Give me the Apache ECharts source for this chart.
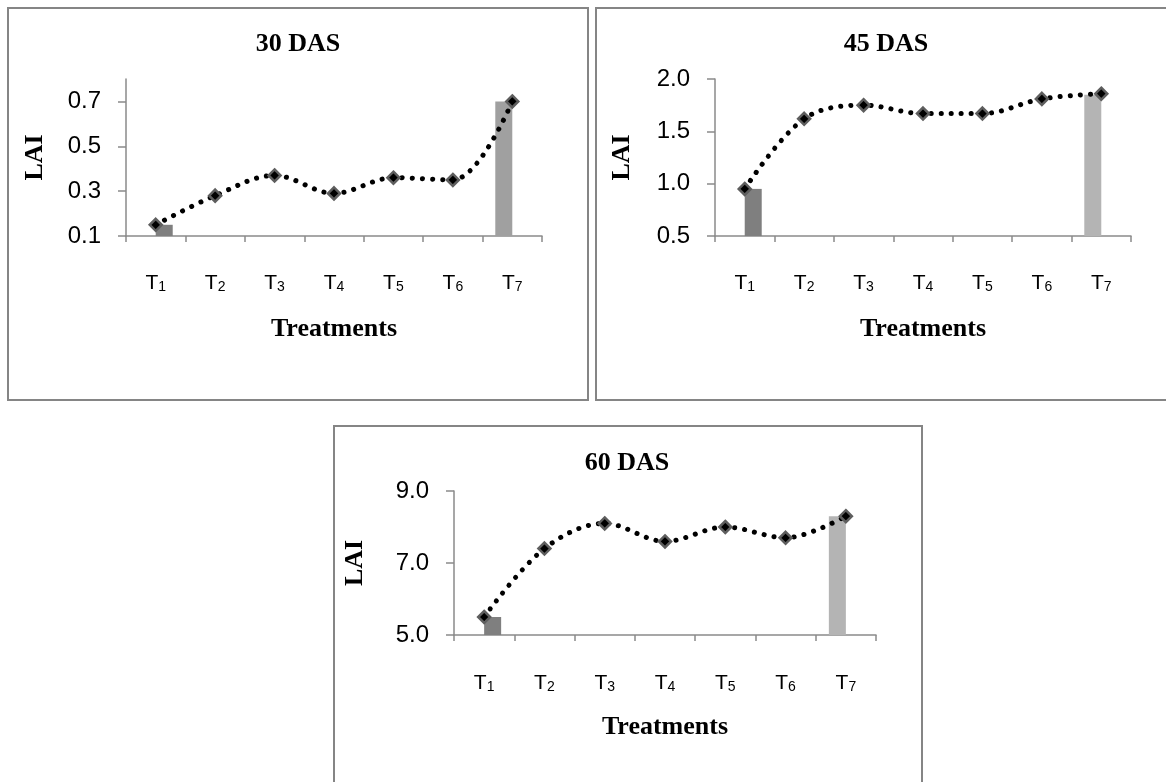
<!DOCTYPE html>
<html>
<head>
<meta charset="utf-8">
<script src="https://cdn.jsdelivr.net/npm/echarts@6/dist/echarts.min.js"></script>
<style>
  html, body { margin: 0; padding: 0; background: #fff; }
  #chart { width: 1166px; height: 782px; }
</style>
</head>
<body>
<div id="chart"></div>
<script>
// ---- data ----
const categories = ['T1', 'T2', 'T3', 'T4', 'T5', 'T6', 'T7'];
const titles = ['30 DAS', '45 DAS', '60 DAS'];
const lai30 = [0.15, 0.28, 0.37, 0.29, 0.36, 0.35, 0.70];
const lai45 = [0.95, 1.62, 1.75, 1.67, 1.67, 1.81, 1.86];
const lai60 = [5.5, 7.4, 8.1, 7.6, 8.0, 7.7, 8.3];
const t1Bars = [0.15, 0.95, 5.5];   // T1 bar per panel
const t7Bars = [0.70, 1.85, 8.3];   // T7 bar per panel
const yTicks30 = [0.1, 0.3, 0.5, 0.7];
const yTicks45 = [0.5, 1.0, 1.5, 2.0];
const yTicks60 = [5.0, 7.0, 9.0];
const yMin = [0.1, 0.5, 5.0];
const yMax = [0.8, 2.0, 9.0];
const yName = 'LAI';
const xName = 'Treatments';

const lines = [lai30, lai45, lai60];
const yTicks = [yTicks30, yTicks45, yTicks60];

// ---- layout ----
const panels = [
  { box: [8, 8, 580, 392], grid: { left: 126, top: 79, width: 416, height: 157 }, title: [298, 44], nameGapY: 78, nameGapX: 80, labelMargin: 36, t7Color: '#a0a0a0' },
  { box: [596, 8, 600, 392], grid: { left: 715, top: 79, width: 416, height: 157 }, title: [886, 44], nameGapY: 80, nameGapX: 80, labelMargin: 36, t7Color: '#b4b4b4' },
  { box: [334, 426, 588, 400], grid: { left: 454, top: 491, width: 422, height: 144 }, title: [627, 463], nameGapY: 86, nameGapX: 79, labelMargin: 37, t7Color: '#b4b4b4' }
];

const axisGray = '#8a8a8a';
const grids = [], xAxes = [], yAxes = [], series = [], graphics = [];

panels.forEach((p, i) => {
  graphics.push({
    type: 'rect', silent: true,
    shape: { x: p.box[0], y: p.box[1], width: p.box[2], height: p.box[3] },
    style: { fill: null, stroke: '#858585', lineWidth: 2 }
  });
  graphics.push({
    type: 'text', silent: true, x: p.title[0], y: p.title[1],
    style: {
      text: titles[i], align: 'center', verticalAlign: 'middle',
      font: 'bold 26px "Liberation Serif", "Times New Roman", serif', fill: '#000'
    }
  });
  grids.push(Object.assign({ containLabel: false }, p.grid));
  xAxes.push({
    type: 'category', gridIndex: i, data: categories, boundaryGap: true,
    name: xName, nameLocation: 'middle', nameGap: p.nameGapX,
    nameTextStyle: { fontFamily: '"Liberation Serif", serif', fontWeight: 'bold', fontSize: 26, color: '#000' },
    axisLine: { show: true, onZero: false, lineStyle: { color: axisGray, width: 1.5 } },
    axisTick: { show: true, interval: 0, alignWithLabel: false, length: 6, lineStyle: { color: axisGray, width: 1.5 } },
    axisLabel: {
      interval: 0, margin: p.labelMargin,
      formatter: v => '{t|' + v.charAt(0) + '}{s|' + v.slice(1) + '}',
      rich: {
        t: { fontFamily: '"Liberation Sans", Arial, sans-serif', fontSize: 21, lineHeight: 22, color: '#000' },
        s: { fontFamily: '"Liberation Sans", Arial, sans-serif', fontSize: 14, lineHeight: 14, verticalAlign: 'bottom', color: '#000' }
      }
    },
    splitLine: { show: false }
  });
  yAxes.push({
    type: 'value', gridIndex: i, min: yMin[i], max: yMax[i],
    name: yName, nameLocation: 'middle', nameGap: p.nameGapY, nameRotate: 90,
    nameTextStyle: { fontFamily: '"Liberation Serif", serif', fontWeight: 'bold', fontSize: 26, color: '#000' },
    axisLine: { show: true, lineStyle: { color: axisGray, width: 1.5 } },
    axisTick: { show: true, length: 8, customValues: yTicks[i], lineStyle: { color: axisGray, width: 1.5 } },
    axisLabel: {
      customValues: yTicks[i], margin: 25,
      formatter: v => Number(v).toFixed(1),
      fontFamily: '"Liberation Sans", Arial, sans-serif', fontSize: 24, color: '#000'
    },
    splitLine: { show: false }
  });
  const t7Data = categories.map((c, k) => k === categories.length - 1 ? t7Bars[i] : null);
  const t1Data = categories.map((c, k) => k === 0 ? t1Bars[i] : null);
  series.push({
    type: 'bar', xAxisIndex: i, yAxisIndex: i, data: t7Data,
    barWidth: 17, barGap: '0%', itemStyle: { color: p.t7Color }, silent: true, z: 2
  });
  series.push({
    type: 'bar', xAxisIndex: i, yAxisIndex: i, data: t1Data,
    barWidth: 17, barGap: '0%', itemStyle: { color: '#7f7f7f' }, silent: true, z: 2
  });
  series.push({
    type: 'line', xAxisIndex: i, yAxisIndex: i, data: lines[i],
    smooth: 0.35, symbol: 'diamond', symbolSize: 12, showAllSymbol: true,
    itemStyle: { color: '#000', borderColor: '#5e5e5e', borderWidth: 2.5 },
    lineStyle: { color: '#000', width: 5, type: [0.1, 10], cap: 'round' },
    silent: true, z: 5
  });
});

const chart = echarts.init(document.getElementById('chart'), null, { renderer: 'canvas' });
chart.setOption({
  animation: false,
  backgroundColor: '#fff',
  grid: grids,
  xAxis: xAxes,
  yAxis: yAxes,
  series: series,
  graphic: graphics
});
</script>
</body>
</html>
